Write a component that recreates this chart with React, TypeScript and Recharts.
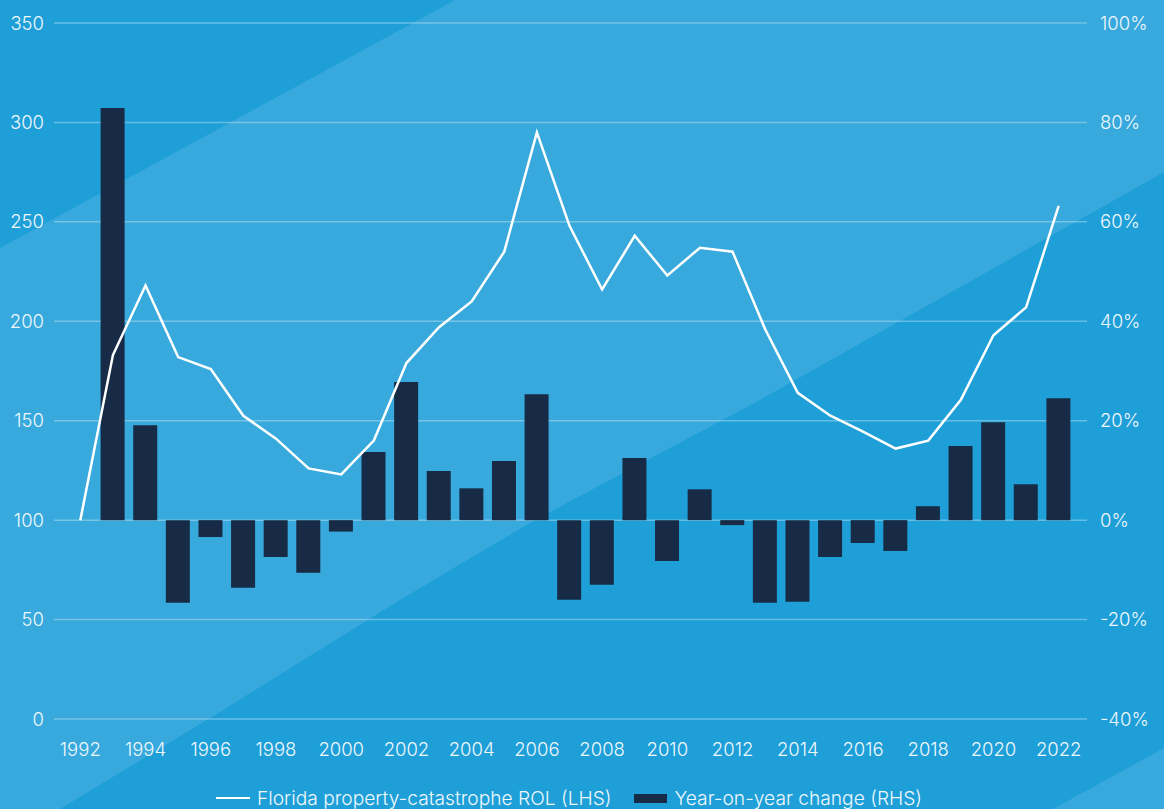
import {
  Bar,
  CartesianGrid,
  ComposedChart,
  Legend,
  Line,
  XAxis,
  YAxis,
} from "recharts";

const years = [
  "1992", "1993", "1994", "1995", "1996", "1997", "1998", "1999", "2000", "2001",
  "2002", "2003", "2004", "2005", "2006", "2007", "2008", "2009", "2010", "2011",
  "2012", "2013", "2014", "2015", "2016", "2017", "2018", "2019", "2020", "2021",
  "2022",
];

// Florida property-catastrophe ROL (LHS)
const rol = [
  100, 183, 218, 182, 176, 152.5, 141, 126, 123, 140,
  179, 197, 210, 235, 295, 248, 216, 243, 223, 237,
  235, 196, 164, 152.5, 144.5, 136, 140, 160.5, 193, 207,
  258,
];

// Year-on-year change, % (RHS)
const yoy = [
  null, 82.9, 19.1, -16.6, -3.4, -13.6, -7.4, -10.6, -2.3, 13.7,
  27.8, 9.9, 6.4, 11.9, 25.3, -16.0, -13.0, 12.5, -8.2, 6.2,
  -1.0, -16.6, -16.4, -7.4, -4.6, -6.2, 2.8, 14.9, 19.7, 7.2,
  24.5,
];

const leftTicks = [0, 50, 100, 150, 200, 250, 300, 350];
const rightTicks = [-40, -20, 0, 20, 40, 60, 80, 100];

const data = years.map((year, i) => ({ year, rol: rol[i], yoy: yoy[i] }));

const FONT = "Inter, 'Open Sans', sans-serif";
const TEXT = "#eef7fc";
const tick = { fill: TEXT, fontSize: 18.5, fontFamily: FONT, fontWeight: 300 };

function LegendContent() {
  return (
    <div
      style={{
        display: "flex",
        justifyContent: "center",
        alignItems: "center",
        paddingTop: 12,
        paddingRight: 26,
        height: 22,
        lineHeight: "22px",
        fontFamily: FONT,
        fontWeight: 300,
        fontSize: 19.2,
        color: TEXT,
        whiteSpace: "nowrap",
      }}
    >
      <span style={{ width: 34, height: 2.5, background: "#ffffff", marginRight: 7 }} />
      <span>Florida property-catastrophe ROL (LHS)</span>
      <span style={{ width: 33, height: 9, background: "#172b46", marginLeft: 22, marginRight: 8 }} />
      <span>Year-on-year change (RHS)</span>
    </div>
  );
}

export default function App() {
  return (
    <div style={{ position: "relative", width: 1164, height: 809, overflow: "hidden" }}>
      <style>{`body{margin:0}`}</style>
      <svg
        width={1164}
        height={809}
        style={{ position: "absolute", left: 0, top: 0 }}
      >
        <rect width={1164} height={809} fill="#1f9fd8" />
        <polygon
          points="0,248 455,0 1164,0 1164,172 760,400 535,520 400,600 220,712 60,809 0,809"
          fill="#37a9dc"
        />
        <polygon points="1053,809 1164,748 1164,809" fill="#37a9dc" />
      </svg>
      <div style={{ position: "absolute", left: 0, top: 0 }}>
        <ComposedChart
          width={1164}
          height={809}
          data={data}
          margin={{ top: 23, right: 0, bottom: 0, left: 0 }}
        >
          <CartesianGrid
            yAxisId="left"
            vertical={false}
            stroke="rgba(255,255,255,0.32)"
            strokeWidth={1.5}
          />
          <XAxis
            dataKey="year"
            interval={1}
            padding={{ left: 10, right: 12 }}
            tickLine={false}
            axisLine={false}
            tick={tick}
            tickMargin={18}
            height={56}
          />
          <YAxis
            yAxisId="left"
            orientation="left"
            domain={[0, 350]}
            ticks={leftTicks}
            width={54}
            tickLine={false}
            axisLine={false}
            tick={tick}
            tickMargin={4}
          />
          <YAxis
            yAxisId="right"
            orientation="right"
            domain={[-40, 100]}
            ticks={rightTicks}
            tickFormatter={(v) => `${v}%`}
            width={77}
            tickLine={false}
            axisLine={false}
            tick={{ ...tick, textAnchor: "start" }}
            tickMargin={7}
          />
          <Legend verticalAlign="bottom" height={34} content={() => <LegendContent />} />
          <Bar
            yAxisId="right"
            dataKey="yoy"
            name="Year-on-year change (RHS)"
            fill="#172b46"
            barSize={24}
            isAnimationActive={false}
          />
          <Line
            yAxisId="left"
            dataKey="rol"
            name="Florida property-catastrophe ROL (LHS)"
            type="linear"
            stroke="#ffffff"
            strokeWidth={2.5}
            dot={false}
            activeDot={false}
            isAnimationActive={false}
          />
        </ComposedChart>
      </div>
    </div>
  );
}
